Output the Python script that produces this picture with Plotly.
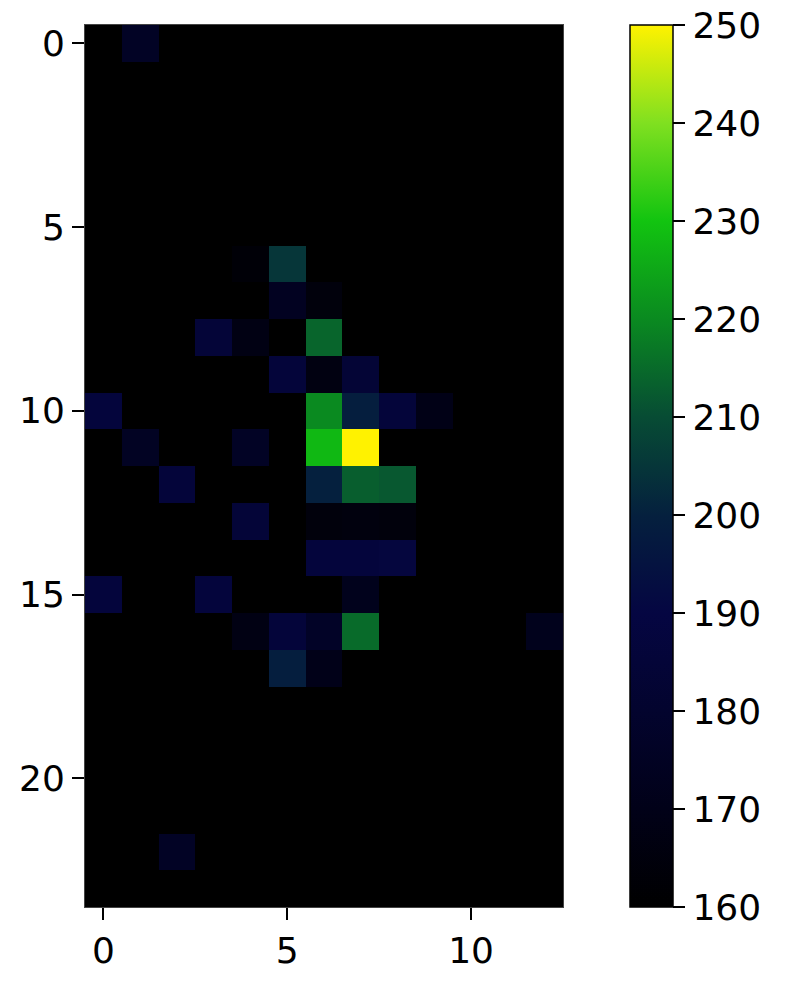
import plotly.graph_objects as go

# Column / row indices
x_index = list(range(13))
y_index = list(range(24))

x_tick_values = [0, 5, 10]
y_tick_values = [0, 5, 10, 15, 20]
cbar_tick_values = [160, 170, 180, 190, 200, 210, 220, 230, 240, 250]

# Cell intensities (24 rows x 13 columns)
intensity = [
    [160, 176, 160, 160, 160, 160, 160, 160, 160, 160, 160, 160, 160],  # 0
    [160, 160, 160, 160, 160, 160, 160, 160, 160, 160, 160, 160, 160],  # 1
    [160, 160, 160, 160, 160, 160, 160, 160, 160, 160, 160, 160, 160],  # 2
    [160, 160, 160, 160, 160, 160, 160, 160, 160, 160, 160, 160, 160],  # 3
    [160, 160, 160, 160, 160, 160, 160, 160, 160, 160, 160, 160, 160],  # 4
    [160, 160, 160, 160, 160, 160, 160, 160, 160, 160, 160, 160, 160],  # 5
    [160, 160, 160, 160, 163, 205, 160, 160, 160, 160, 160, 160, 160],  # 6
    [160, 160, 160, 160, 160, 174, 165, 160, 160, 160, 160, 160, 160],  # 7
    [160, 160, 160, 185, 168, 160, 214, 160, 160, 160, 160, 160, 160],  # 8
    [160, 160, 160, 160, 160, 186, 167, 184, 160, 160, 160, 160, 160],  # 9
    [187, 160, 160, 160, 160, 160, 220, 199, 186, 169, 160, 160, 160],  # 10
    [160, 175, 160, 160, 176, 160, 228, 250, 160, 160, 160, 160, 160],  # 11
    [160, 160, 186, 160, 160, 160, 200, 213, 212, 160, 160, 160, 160],  # 12
    [160, 160, 160, 160, 185, 160, 165, 166, 165, 160, 160, 160, 160],  # 13
    [160, 160, 160, 160, 160, 160, 187, 187, 188, 160, 160, 160, 160],  # 14
    [187, 160, 160, 187, 160, 160, 160, 172, 160, 160, 160, 160, 160],  # 15
    [160, 160, 160, 160, 168, 186, 177, 215, 160, 160, 160, 160, 172],  # 16
    [160, 160, 160, 160, 160, 199, 170, 160, 160, 160, 160, 160, 160],  # 17
    [160, 160, 160, 160, 160, 160, 160, 160, 160, 160, 160, 160, 160],  # 18
    [160, 160, 160, 160, 160, 160, 160, 160, 160, 160, 160, 160, 160],  # 19
    [160, 160, 160, 160, 160, 160, 160, 160, 160, 160, 160, 160, 160],  # 20
    [160, 160, 160, 160, 160, 160, 160, 160, 160, 160, 160, 160, 160],  # 21
    [160, 160, 176, 160, 160, 160, 160, 160, 160, 160, 160, 160, 160],  # 22
    [160, 160, 160, 160, 160, 160, 160, 160, 160, 160, 160, 160, 160],  # 23
]

z_min, z_max = 160, 250

colorscale = [
    [0.000, "#000000"],
    [0.111, "#010118"],
    [0.222, "#03042e"],
    [0.333, "#050642"],
    [0.444, "#05203e"],
    [0.556, "#074c34"],
    [0.667, "#0a8a20"],
    [0.778, "#12c410"],
    [0.889, "#80e020"],
    [1.000, "#fff200"],
]

FONT = "DejaVu Sans"
FS = 36

fig = go.Figure(
    go.Heatmap(
        z=intensity,
        x=x_index,
        y=y_index,
        zmin=z_min,
        zmax=z_max,
        colorscale=colorscale,
        showscale=True,
        colorbar=dict(
            x=1.14,
            xanchor="left",
            xpad=0,
            ypad=0,
            y=0.5,
            yanchor="middle",
            len=1,
            lenmode="fraction",
            thickness=43,
            outlinewidth=1.5,
            outlinecolor="black",
            tickvals=cbar_tick_values,
            ticks="outside",
            ticklen=12,
            tickwidth=2,
            tickcolor="black",
            tickfont=dict(family=FONT, size=FS, color="black"),
        ),
    )
)

fig.update_layout(
    width=800,
    height=985,
    margin=dict(l=85, r=237, t=25, b=78, autoexpand=False),
    paper_bgcolor="white",
    plot_bgcolor="black",
    font=dict(family=FONT, size=FS, color="black"),
    showlegend=False,
)

axis_style = dict(
    ticks="outside",
    ticklen=12,
    tickwidth=2,
    tickcolor="black",
    showgrid=False,
    zeroline=False,
    showline=True,
    linecolor="#444",
    linewidth=1,
    mirror=True,
    automargin=False,
    tickfont=dict(family=FONT, size=FS, color="black"),
)

fig.update_xaxes(range=[-0.5, 12.5], tickvals=x_tick_values, **axis_style)
fig.update_yaxes(range=[23.5, -0.5], tickvals=y_tick_values, **axis_style)

# Remove the browser's default 8px body margin so the figure fills the window.
fig.write_html(
    "out.html",
    config={"displayModeBar": False},
    post_script="document.body.style.margin='0';document.body.style.overflow='hidden';",
)
